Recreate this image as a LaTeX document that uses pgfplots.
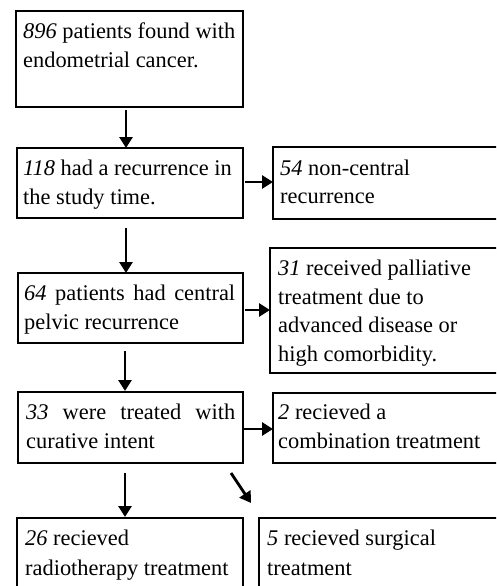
\documentclass[border=0pt]{standalone}
\usepackage{pgfplots}
\pgfplotsset{compat=1.18}
\usepackage{fontspec}
\setmainfont{Liberation Serif}
\usetikzlibrary{arrows.meta}
\tikzset{
  box/.style={black, line width=1.6pt, mark=none},
  arr/.style={black, line width=2.8pt, mark=none, -{Triangle[length=11pt,width=13pt]}},
  txt/.style={anchor=base west, inner sep=0pt, font=\fontsize{22.4}{29}\selectfont}}
\begin{document}
\begin{tikzpicture}
\begin{axis}[name=ax, scale only axis, width=496pt, height=586pt,
  xmin=0, xmax=496, ymin=0, ymax=586, y dir=reverse,
  axis lines=none, clip=true]
% boxes
\addplot[box] coordinates {(16,11) (243,11) (243,107) (16,107)} -- cycle;
\addplot[box] coordinates {(17,148) (243,148) (243,218) (17,218)} -- cycle;
\addplot[box] coordinates {(273,147) (520,147) (520,219) (273,219)} -- cycle;
\addplot[box] coordinates {(18,273) (243,273) (243,343) (18,343)} -- cycle;
\addplot[box] coordinates {(270,248) (520,248) (520,373) (270,373)} -- cycle;
\addplot[box] coordinates {(18,392) (243,392) (243,463) (18,463)} -- cycle;
\addplot[box] coordinates {(273,393) (520,393) (520,463) (273,463)} -- cycle;
\addplot[box] coordinates {(17,518) (243,518) (243,600) (17,600)} -- cycle;
\addplot[box] coordinates {(259,518) (520,518) (520,600) (259,600)} -- cycle;
% arrows
\addplot[arr] coordinates {(126,110) (126,148)};
\addplot[arr] coordinates {(245,182) (273,182)};
\addplot[arr] coordinates {(126,228) (126,273)};
\addplot[arr] coordinates {(245,310) (270,310)};
\addplot[arr] coordinates {(125,351) (125,391)};
\addplot[arr] coordinates {(243,429) (273,429)};
\addplot[arr] coordinates {(125,473) (125,517)};
\addplot[arr] coordinates {(231,473) (251,503)};
% texts
\node[txt] at (axis cs:23,38) {\textit{896} patients found with};
\node[txt] at (axis cs:23,67) {endometrial cancer.};
\node[txt] at (axis cs:23,175) {\textit{118} had a recurrence in};
\node[txt] at (axis cs:23,204) {the study time.};
\node[txt] at (axis cs:280,175) {\textit{54} non-central};
\node[txt] at (axis cs:280,203) {recurrence};
\node[txt] at (axis cs:24,300) {\makebox[211pt][s]{\textit{64} patients had central}};
\node[txt] at (axis cs:24,329) {pelvic recurrence};
\node[txt] at (axis cs:278,275) {\textit{31} received palliative};
\node[txt] at (axis cs:278,304) {treatment due to};
\node[txt] at (axis cs:278,332) {advanced disease or};
\node[txt] at (axis cs:278,361) {high comorbidity.};
\node[txt] at (axis cs:26,419) {\makebox[209pt][s]{\textit{33} were treated with}};
\node[txt] at (axis cs:26,448) {curative intent};
\node[txt] at (axis cs:278,419) {\textit{2} recieved a};
\node[txt] at (axis cs:278,448) {combination treatment};
\node[txt] at (axis cs:25,545) {\textit{26} recieved};
\node[txt] at (axis cs:25,575) {radiotherapy treatment};
\node[txt] at (axis cs:267,545) {\textit{5} recieved surgical};
\node[txt] at (axis cs:267,575) {treatment};
\end{axis}
\pgfresetboundingbox
\path (ax.south west) rectangle (ax.north east);
\end{tikzpicture}
\end{document}
